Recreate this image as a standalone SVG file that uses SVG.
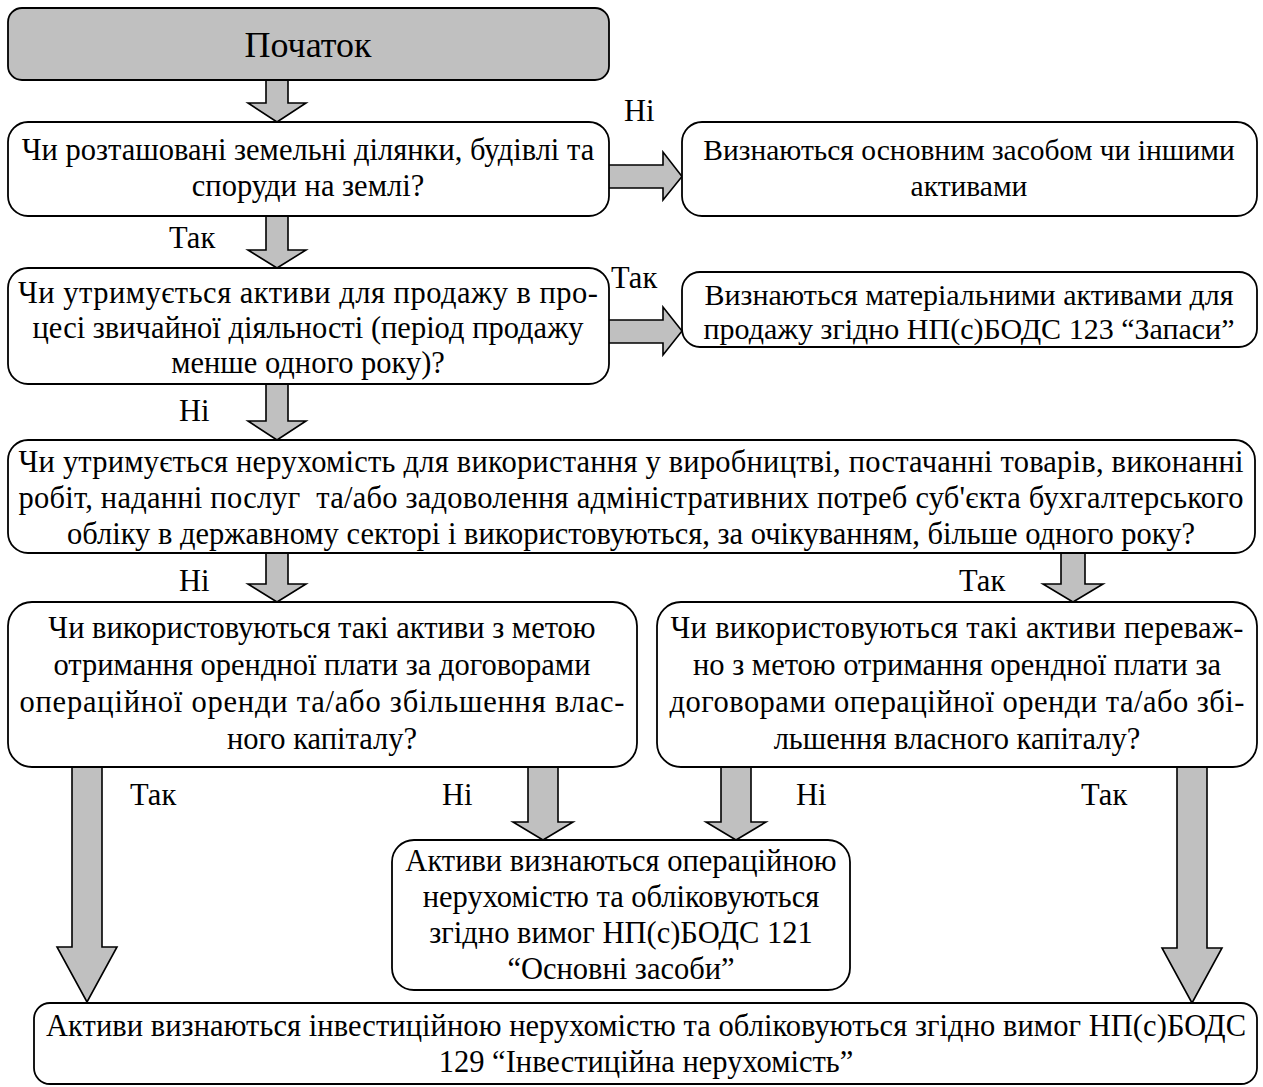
<svg xmlns="http://www.w3.org/2000/svg" width="1263" height="1087" viewBox="0 0 1263 1087">
  <style>
    .box { fill: #ffffff; stroke: #000000; stroke-width: 1.8; }
    .start { fill: #c0c0c0; stroke: #000000; stroke-width: 1.8; }
    .arrow { fill: #c0c0c0; stroke: #000000; stroke-width: 1.6; stroke-linejoin: miter; }
    text { font-family: "Liberation Serif", "Times New Roman", serif; font-size: 30.5px; fill: #000000; white-space: pre; }
    .c { text-anchor: middle; }
  </style>
  <rect width="1263" height="1087" fill="#ffffff"/>

  <!-- block arrows between the steps -->
  <g id="connectors">
    <!-- start -> q1 -->
    <path class="arrow" d="M266,80 L266,103 L248,103 L277,122 L306,103 L288,103 L288,80"/>
    <!-- q1 -> r1 (Ні) -->
    <path class="arrow" d="M609,165 L663,165 L663,152 L682,176.5 L663,200 L663,188 L609,188"/>
    <!-- q1 -> q2 (Так) -->
    <path class="arrow" d="M266,216 L266,250 L248,250 L277,268 L306,250 L288,250 L288,216"/>
    <!-- q2 -> r2 (Так) -->
    <path class="arrow" d="M609,320 L663,320 L663,307 L682,331 L663,355 L663,343 L609,343"/>
    <!-- q2 -> q3 (Ні) -->
    <path class="arrow" d="M266,384 L266,421 L248,421 L277,440 L306,421 L288,421 L288,384"/>
    <!-- q3 -> q4 left (Ні) -->
    <path class="arrow" d="M266,553 L266,584 L248,584 L277,602 L306,584 L288,584 L288,553"/>
    <!-- q3 -> q4 right (Так) -->
    <path class="arrow" d="M1061,553 L1061,584 L1043,584 L1073,602 L1103,584 L1085,584 L1085,553"/>
    <!-- q4 left -> investment (Так) -->
    <path class="arrow" d="M72,767 L72,947 L57,947 L87,1002 L117,947 L102,947 L102,767"/>
    <!-- q4 left -> operating (Ні) -->
    <path class="arrow" d="M528,767 L528,822 L513,822 L543,840 L573,822 L558,822 L558,767"/>
    <!-- q4 right -> operating (Ні) -->
    <path class="arrow" d="M721,767 L721,822 L706,822 L736,840 L766,822 L751,822 L751,767"/>
    <!-- q4 right -> investment (Так) -->
    <path class="arrow" d="M1177,767 L1177,948 L1162,948 L1192,1003 L1222,948 L1207,948 L1207,767"/>
  </g>

  <!-- branch labels -->
  <g id="labels">
    <text x="624" y="121">Ні</text>
    <text x="169" y="248">Так</text>
    <text x="611" y="288">Так</text>
    <text x="179" y="421">Ні</text>
    <text x="179" y="591">Ні</text>
    <text x="959" y="591">Так</text>
    <text x="130" y="805">Так</text>
    <text x="442" y="805">Ні</text>
    <text x="796" y="805">Ні</text>
    <text x="1081" y="805">Так</text>
  </g>

  <g id="start">
    <rect class="start" x="8" y="8" width="601" height="72" rx="14"/>
    <text class="c" x="308" y="57" style="font-size:36px">Початок</text>
  </g>

  <g id="q1">
    <rect class="box" x="8" y="122" width="601" height="94" rx="20"/>
    <text class="c" x="308" y="160">Чи розташовані земельні ділянки, будівлі та</text>
    <text class="c" x="308" y="196">споруди на землі?</text>
  </g>

  <g id="r1">
    <rect class="box" x="682" y="122" width="575" height="94" rx="20"/>
    <text class="c" x="969" y="160" style="font-size:29.5px">Визнаються основним засобом чи іншими</text>
    <text class="c" x="969" y="196" style="font-size:29.5px">активами</text>
  </g>

  <g id="q2">
    <rect class="box" x="8" y="268" width="601" height="116" rx="20"/>
    <text class="c" x="308" y="303" textLength="580" lengthAdjust="spacing">Чи утримується активи для продажу в про-</text>
    <text class="c" x="308" y="338">цесі звичайної діяльності (період продажу</text>
    <text class="c" x="308" y="373">менше одного року)?</text>
  </g>

  <g id="r2">
    <rect class="box" x="682" y="272" width="575" height="75" rx="18"/>
    <text class="c" x="969" y="305" style="font-size:30px">Визнаються матеріальними активами для</text>
    <text class="c" x="969" y="339" style="font-size:30px">продажу згідно НП(с)БОДС 123 “Запаси”</text>
  </g>

  <g id="q3">
    <rect class="box" x="8" y="440" width="1247" height="113" rx="20"/>
    <text class="c" x="631" y="472" textLength="1225" lengthAdjust="spacing">Чи утримується нерухомість для використання у виробництві, постачанні товарів, виконанні</text>
    <text class="c" x="631" y="508" textLength="1225" lengthAdjust="spacing">робіт, наданні послуг  та/або задоволення адміністративних потреб суб'єкта бухгалтерського</text>
    <text class="c" x="631" y="544">обліку в державному секторі і використовуються, за очікуванням, більше одного року?</text>
  </g>

  <g id="q4-left">
    <rect class="box" x="8" y="602" width="629" height="165" rx="24"/>
    <text class="c" x="322" y="638">Чи використовуються такі активи з метою</text>
    <text class="c" x="322" y="675">отримання орендної плати за договорами</text>
    <text class="c" x="322" y="712" textLength="605" lengthAdjust="spacing">операційної оренди та/або збільшення влас-</text>
    <text class="c" x="322" y="749">ного капіталу?</text>
  </g>

  <g id="q4-right">
    <rect class="box" x="657" y="602" width="600" height="165" rx="24"/>
    <text class="c" x="957" y="638" textLength="573" lengthAdjust="spacing">Чи використовуються такі активи переваж-</text>
    <text class="c" x="957" y="675">но з метою отримання орендної плати за</text>
    <text class="c" x="957" y="712" textLength="575" lengthAdjust="spacing">договорами операційної оренди та/або збі-</text>
    <text class="c" x="957" y="749">льшення власного капіталу?</text>
  </g>

  <g id="operating">
    <rect class="box" x="392" y="840" width="458" height="150" rx="22"/>
    <text class="c" x="621" y="871">Активи визнаються операційною</text>
    <text class="c" x="621" y="907">нерухомістю та обліковуються</text>
    <text class="c" x="621" y="943">згідно вимог НП(с)БОДС 121</text>
    <text class="c" x="621" y="979">“Основні засоби”</text>
  </g>

  <g id="investment">
    <rect class="box" x="34" y="1003" width="1223" height="81" rx="16"/>
    <text class="c" x="646" y="1036" textLength="1200" lengthAdjust="spacing">Активи визнаються інвестиційною нерухомістю та обліковуються згідно вимог НП(с)БОДС</text>
    <text class="c" x="646" y="1072">129 “Інвестиційна нерухомість”</text>
  </g>
</svg>
